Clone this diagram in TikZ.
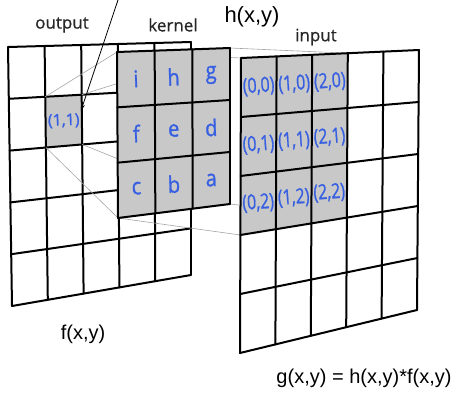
\documentclass[tikz,border=0pt]{standalone}
\usepackage{fontspec}
\setmainfont{Liberation Sans}
\newfontfamily\gridfont[FakeBold=0.6]{Open Sans}
\newfontfamily\cellfont[FakeBold=1.2]{Open Sans}
\usetikzlibrary{calc,arrows.meta}
\definecolor{cellblue}{RGB}{55,95,225}
\definecolor{cellgray}{RGB}{200,200,200}
\definecolor{projgray}{RGB}{165,165,165}
% point at (u,v) inside a sheet with corners a,b,c,d
\newcommand{\quadpt}[4]{%
  \coordinate (#4) at ($($(#1a)!#2!(#1b)$)!#3!($(#1d)!#2!(#1c)$)$);}

\begin{document}
\begin{tikzpicture}[x=1pt,y=-1pt,
  gridline/.style={line width=2pt,line cap=round},
  projline/.style={draw=projgray,line width=0.6pt},
  sheetname/.style={font=\gridfont\fontsize{17}{20}\selectfont,text=black!85},
  func/.style={font=\fontsize{20}{24}\selectfont},
  letter/.style={font=\cellfont\fontsize{20}{22}\selectfont,text=cellblue,rotate=2},
  idxlabel/.style={font=\cellfont\fontsize{16}{18}\selectfont,text=cellblue,rotate=4,inner sep=1pt}]
  \useasboundingbox (0,0) rectangle (458,394);

  % sheet corners
  \coordinate (oa) at (8,47);   \coordinate (ob) at (191,42);
  \coordinate (oc) at (191,275); \coordinate (od) at (12,306);
  \coordinate (ka) at (117,52); \coordinate (kb) at (230,48);
  \coordinate (kc) at (230,204); \coordinate (kd) at (118,218);
  \coordinate (ia) at (241,58); \coordinate (ib) at (419,50);
  \coordinate (ic) at (417,310); \coordinate (id) at (240,353);

  % output f(x,y)
  \quadpt{o}{0.2}{0.2}{o1}
  \quadpt{o}{0.4}{0.2}{o2}
  \quadpt{o}{0.4}{0.4}{o3}
  \quadpt{o}{0.2}{0.4}{o4}
  \fill[cellgray] (o1)--(o2)--(o3)--(o4)--cycle;
  \foreach \i in {0,...,5}
  {
    \draw[gridline] ($(oa)!\i/5!(ob)$)--($(od)!\i/5!(oc)$);
    \draw[gridline] ($(oa)!\i/5!(od)$)--($(ob)!\i/5!(oc)$);
  }
  \quadpt{o}{0.3}{0.3}{oc11}
  \node[idxlabel,rotate=-2] (o11) at (oc11) {(1,1)};

  % window of the input under the kernel
  \quadpt{i}{0}{0}{w1}
  \quadpt{i}{0.6}{0}{w2}
  \quadpt{i}{0.6}{0.6}{w3}
  \quadpt{i}{0}{0.6}{w4}
  \draw[projline] (o1)--(ka)--(w1);
  \draw[projline] (o2)--(kb)--(w2);
  \draw[projline] (o3)--(kc)--(w3);
  \draw[projline] (o4)--(kd)--(w4);

  % kernel h(x,y)
  \fill[cellgray] (ka)--(kb)--(kc)--(kd)--cycle;
  \foreach \i in {0,...,3}
  {
    \draw[gridline] ($(ka)!\i/3!(kb)$)--($(kd)!\i/3!(kc)$);
    \draw[gridline] ($(ka)!\i/3!(kd)$)--($(kb)!\i/3!(kc)$);
  }
  \foreach \t/\c/\r in {i/0/0,h/1/0,g/2/0,f/0/1,e/1/1,d/2/1,c/0/2,b/1/2,a/2/2}
  {
    \pgfmathsetmacro\u{(\c+0.5)/3}
    \pgfmathsetmacro\v{(\r+0.5)/3}
    \quadpt{k}{\u}{\v}{kp\c\r}
    \node[letter] (k\c\r) at (kp\c\r) {\scalebox{1}[1.15]{\t}};
  }

  % input g(x,y)
  \fill[cellgray] (w1)--(w2)--(w3)--(w4)--cycle;
  \foreach \i in {0,...,5}
  {
    \draw[gridline] ($(ia)!\i/5!(ib)$)--($(id)!\i/5!(ic)$);
    \draw[gridline] ($(ia)!\i/5!(id)$)--($(ib)!\i/5!(ic)$);
  }
  \foreach \c in {0,1,2}
    \foreach \r in {0,1,2}
    {
      \pgfmathsetmacro\u{(\c+0.5)/5}
      \pgfmathsetmacro\v{(\r+0.5)/5}
      \quadpt{i}{\u}{\v}{ip\c\r}
      \node[idxlabel] (in\c\r) at (ip\c\r) {\scalebox{1}[1.3]{(\c,\r)}};
    }

  % labels
  \node[sheetname] (outlbl) at (62,25) {output};
  \node[sheetname] (kerlbl) at (173,25) {kernel};
  \node[sheetname] (inlbl) at (316,37) {input};
  \node[func,font=\fontsize{22}{26}\selectfont] (hlbl) at (252,17) {h(x,y)};
  \node[func] (flbl) at (83,334) {f(x,y)};
  \node[func] (glbl) at (364,378) {g(x,y) = h(x,y)*f(x,y)};

  \coordinate (tail) at (118,0);
  \draw[-{Stealth[length=7pt,width=4pt]},line width=0.8pt,shorten >=1pt] (tail)--(o11.north east);
\end{tikzpicture}
\end{document}
